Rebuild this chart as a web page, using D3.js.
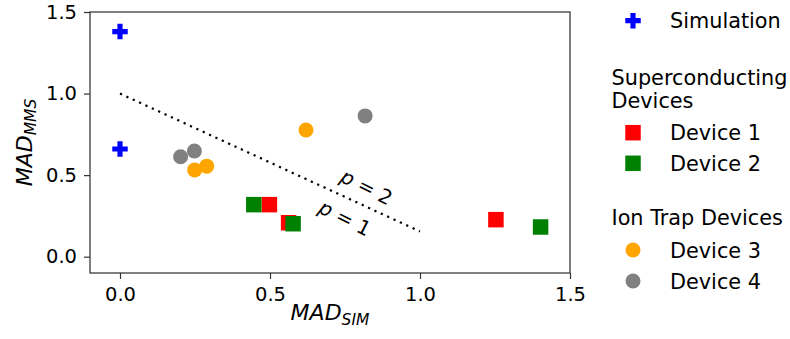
<!DOCTYPE html>
<html>
<head>
<meta charset="utf-8">
<script src="https://cdn.jsdelivr.net/npm/d3@7"></script>
<style>
  body { margin: 0; background: #fff; }
  svg { display: block; font-family: "DejaVu Sans", sans-serif; }
</style>
</head>
<body>
<svg id="chart" width="790" height="339"></svg>
<script>
const xTicks = [0, 0.5, 1.0, 1.5];
const yTicks = [0, 0.5, 1.0, 1.5];

const simX = [0, 0];
const simY = [1.38, 0.66];
const dev1X = [0.498, 0.562, 1.253];
const dev1Y = [0.319, 0.208, 0.227];
const dev2X = [0.446, 0.577, 1.402];
const dev2Y = [0.319, 0.202, 0.182];
const dev3X = [0.249, 0.289, 0.62];
const dev3Y = [0.532, 0.555, 0.777];
const dev4X = [0.202, 0.248, 0.817];
const dev4Y = [0.613, 0.648, 0.863];

// dotted boundary between p = 1 and p = 2
const boundaryX = [0, 1];
const boundaryY = [1, 0.155];
const pLabels = ['2', '1'];
const pLabelX = [0.822, 0.75];
const pLabelY = [0.426, 0.236];

const svg = d3.select('#chart');

const margin = { top: 12, left: 90 };
const chartWidth = 480;
const chartHeight = 261;

const g = svg
  .append('g')
  .attr('transform', `translate(${margin.left},${margin.top})`);

const x = d3.scaleLinear().domain([-0.1, 1.5]).range([0, chartWidth]);
const y = d3.scaleLinear().domain([-0.1, 1.5]).range([chartHeight, 0]);

//
// AXES
//

const xAxis = g
  .append('g')
  .attr('transform', `translate(0,${chartHeight})`)
  .call(
    d3.axisBottom(x).tickValues(xTicks).tickFormat(d3.format('.1f'))
      .tickSize(6).tickPadding(8),
  );

const yAxis = g
  .append('g')
  .call(
    d3.axisLeft(y).tickValues(yTicks).tickFormat(d3.format('.1f'))
      .tickSize(6).tickPadding(7),
  );

[xAxis, yAxis].forEach((a) => {
  a.select('.domain').remove();
  a.selectAll('.tick line').attr('stroke', '#333').attr('stroke-width', 1.2);
  a.selectAll('.tick text')
    .attr('fill', '#000')
    .style('font-size', '19.5px')
    .style('font-family', '"DejaVu Sans", sans-serif');
});

g.append('rect')
  .attr('width', chartWidth)
  .attr('height', chartHeight)
  .attr('fill', 'none')
  .attr('stroke', '#333')
  .attr('stroke-width', 1.25);

//
// AXIS LABELS
//

const xLabel = svg
  .append('text')
  .attr('x', margin.left + chartWidth / 2)
  .attr('y', 320)
  .attr('text-anchor', 'middle')
  .style('font-style', 'italic')
  .style('font-size', '22px');
xLabel.append('tspan').text('MAD');
xLabel.append('tspan').attr('dy', 5).style('font-size', '15.5px').text('SIM');

const yLabel = svg
  .append('text')
  .attr('transform', `translate(31.5,${margin.top + chartHeight / 2}) rotate(-90)`)
  .attr('text-anchor', 'middle')
  .style('font-style', 'italic')
  .style('font-size', '22px');
yLabel.append('tspan').text('MAD');
yLabel.append('tspan').attr('dy', 4.5).style('font-size', '15.5px').text('MMS');

//
// BOUNDARY LINE
//

const line = d3
  .line()
  .x((d, i) => x(boundaryX[i]))
  .y((d) => y(d));

g.append('path')
  .datum(boundaryY)
  .attr('fill', 'none')
  .attr('stroke', '#000')
  .attr('stroke-width', 2.2)
  .attr('stroke-dasharray', '2.2,4.8')
  .attr('d', line);

pLabels.forEach((lab, i) => {
  const t = g
    .append('text')
    .attr(
      'transform',
      `translate(${x(pLabelX[i])},${y(pLabelY[i])}) rotate(27)`,
    )
    .attr('text-anchor', 'middle')
    .attr('dominant-baseline', 'central')
    .style('font-size', '20px');
  t.append('tspan').style('font-style', 'italic').text('p');
  t.append('tspan').text(' = ' + lab);
});

//
// POINTS
//

const series = [
  { xs: simX, ys: simY, type: d3.symbolCross, size: 133, color: '#0000ff' },
  { xs: dev1X, ys: dev1Y, type: d3.symbolSquare, size: 240, color: '#ff0000' },
  { xs: dev2X, ys: dev2Y, type: d3.symbolSquare, size: 240, color: '#008000' },
  { xs: dev3X, ys: dev3Y, type: d3.symbolCircle, size: 177, color: '#ffa500' },
  { xs: dev4X, ys: dev4Y, type: d3.symbolCircle, size: 177, color: '#808080' },
];

series.forEach((s) => {
  g.selectAll(null)
    .data(s.xs)
    .enter()
    .append('path')
    .attr('transform', (d, i) => `translate(${x(d)},${y(s.ys[i])})`)
    .attr('d', d3.symbol().type(s.type).size(s.size))
    .attr('fill', s.color);
});

//
// LEGEND
//

const legend = svg.append('g');

const legendRows = [
  { kind: 'item', label: 'Simulation', s: series[0], y: 20.7 },
  { kind: 'title', label: 'Superconducting', y: 85 },
  { kind: 'title', label: 'Devices', y: 108.3 },
  { kind: 'item', label: 'Device 1', s: series[1], y: 132.7 },
  { kind: 'item', label: 'Device 2', s: series[2], y: 163.3 },
  { kind: 'title', label: 'Ion Trap Devices', y: 225 },
  { kind: 'item', label: 'Device 3', s: series[3], y: 250 },
  { kind: 'item', label: 'Device 4', s: series[4], y: 281 },
];

legendRows.forEach((r) => {
  if (r.kind === 'title') {
    legend
      .append('text')
      .attr('x', 611.5)
      .attr('y', r.y)
      .style('font-size', '20.8px')
      .text(r.label);
  } else {
    legend
      .append('path')
      .attr('transform', `translate(633,${r.y})`)
      .attr('d', d3.symbol().type(r.s.type).size(r.s.size))
      .attr('fill', r.s.color);
    legend
      .append('text')
      .attr('x', 670)
      .attr('y', r.y + 7.5)
      .style('font-size', '20.8px')
      .text(r.label);
  }
});
</script>
</body>
</html>
